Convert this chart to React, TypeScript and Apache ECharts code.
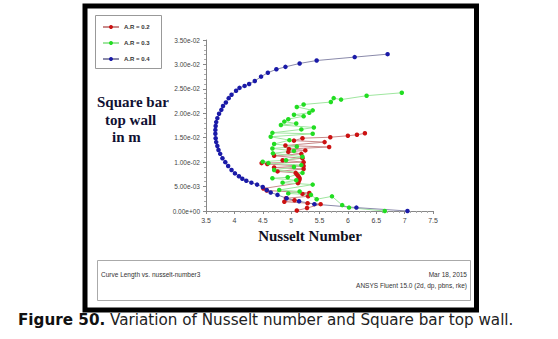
import React, { useEffect, useRef } from "react";
import * as echarts from "echarts";

const seriesNames = ["A.R = 0.2", "A.R = 0.3", "A.R = 0.4"];

// A.R = 0.2 : [Nusselt number, curve length (m)]
const red: number[][] = [
  [5.10, 0.0001], [5.28, 0.0006], [5.52, 0.0014], [5.29, 0.0016], [4.88, 0.0019],
  [5.06, 0.0022], [4.91, 0.0026], [5.30, 0.0030], [5.20, 0.0035], [5.32, 0.0037],
  [4.57, 0.0042], [4.51, 0.0046], [5.12, 0.0057], [5.13, 0.0060], [5.14, 0.0063],
  [5.15, 0.0066], [5.14, 0.0069], [5.12, 0.0072], [5.10, 0.0075], [5.08, 0.0078],
  [4.76, 0.0081], [5.22, 0.0086], [4.70, 0.0089], [5.22, 0.0092], [4.58, 0.0096],
  [4.48, 0.0098], [5.22, 0.0100], [4.85, 0.0104], [5.20, 0.0108], [4.70, 0.0113],
  [5.18, 0.0117], [4.95, 0.0121], [5.25, 0.0124], [4.96, 0.0127], [5.67, 0.0131],
  [4.90, 0.0134], [5.59, 0.0141], [5.05, 0.0144], [5.20, 0.0149], [5.69, 0.0151],
  [6.00, 0.0154], [6.16, 0.0156], [6.30, 0.0159]
];

// A.R = 0.3
const green: number[][] = [
  [6.65, 0.0000], [6.02, 0.0007], [5.90, 0.0012], [5.72, 0.0030], [5.45, 0.0024],
  [5.35, 0.0033], [4.95, 0.0036], [5.15, 0.0040], [4.79, 0.0043], [5.38, 0.0054],
  [4.85, 0.0058], [5.09, 0.0063], [4.67, 0.0067], [4.94, 0.0069], [5.20, 0.0078],
  [4.70, 0.0084], [5.05, 0.0090], [5.18, 0.0094], [4.60, 0.0098], [4.50, 0.0101],
  [4.91, 0.0104], [5.20, 0.0111], [4.68, 0.0118], [5.05, 0.0123], [4.67, 0.0128],
  [5.10, 0.0132], [4.70, 0.0137], [4.97, 0.0145], [4.64, 0.0152], [5.38, 0.0158],
  [4.67, 0.0160], [5.18, 0.0167], [5.40, 0.0171], [4.82, 0.0176], [5.09, 0.0179],
  [4.88, 0.0183], [4.95, 0.0188], [5.22, 0.0194], [5.05, 0.0197], [5.32, 0.0201],
  [5.38, 0.0206], [5.10, 0.0213], [5.22, 0.0218], [5.70, 0.0223], [5.75, 0.0231],
  [5.88, 0.0228], [6.33, 0.0236], [6.95, 0.0242]
];

// A.R = 0.4
const blue: number[][] = [
  [6.70, 0.0321], [6.12, 0.0315], [5.45, 0.0308], [5.15, 0.0302], [4.90, 0.0295],
  [4.74, 0.0290], [4.59, 0.0283], [4.47, 0.0275], [4.36, 0.0266], [4.26, 0.0260],
  [4.18, 0.0256], [4.09, 0.0252], [4.03, 0.0246], [3.95, 0.0238], [3.90, 0.0231],
  [3.85, 0.0222], [3.80, 0.0215], [3.77, 0.0207], [3.73, 0.0199], [3.70, 0.0190],
  [3.68, 0.0182], [3.67, 0.0174], [3.665, 0.0166], [3.665, 0.0158], [3.67, 0.0149],
  [3.68, 0.0141], [3.70, 0.0133], [3.72, 0.0125], [3.75, 0.0117], [3.79, 0.0108],
  [3.84, 0.0100], [3.89, 0.0092], [3.95, 0.0084], [4.01, 0.0077], [4.08, 0.0071],
  [4.14, 0.0066], [4.21, 0.0062], [4.30, 0.0058], [4.40, 0.0054], [4.50, 0.0049],
  [4.57, 0.0043], [4.64, 0.0038], [4.76, 0.0033], [4.92, 0.0026], [5.14, 0.0020],
  [5.41, 0.0014], [6.15, 0.0007], [7.05, 0.0000]
];

const xTicks = { min: 3.5, max: 7.5, interval: 0.5 };
const yTicks = { min: 0, max: 0.035, interval: 0.005 };

const xTitle = "Nusselt Number";
const yTitleLines = ["Square bar", "top wall", "in m"];
const footLeft = "Curve Length vs. nusselt-number3";
const footDate = "Mar 18, 2015";
const footApp = "ANSYS Fluent 15.0 (2d, dp, pbns, rke)";
const captionBold = "Figure 50.";
const captionText = " Variation of Nusselt number and Square bar top wall.";

function fmtExp(v: number): string {
  const s = v.toExponential(2);
  const [m, e] = s.split("e");
  const sign = e[0] === "-" ? "-" : "+";
  const digits = e.replace(/[+-]/, "").padStart(2, "0");
  return `${m}e${sign}${digits}`;
}

export default function App() {
  const ref = useRef<HTMLDivElement>(null);
  useEffect(() => {
    if (!ref.current) return;
    const chart = echarts.init(ref.current, undefined, { renderer: "svg" });
    const serif = "'Liberation Serif', 'Times New Roman', serif";
    const sans = "'Liberation Sans', Arial, sans-serif";
    const capFont = "'DejaVu Sans', Verdana, sans-serif";
    const mk = (name: string, data: number[][], dot: string, line: string) => ({
      name,
      type: "line",
      data,
      symbol: "circle",
      symbolSize: 4.5,
      showSymbol: true,
      itemStyle: { color: dot },
      lineStyle: { color: line, width: 1 },
      z: 3,
    });
    chart.setOption({
      animation: false,
      backgroundColor: "#ffffff",
      grid: { left: 206, right: 125, top: 40, bottom: 128, containLabel: false },
      legend: {
        orient: "vertical",
        left: 97,
        top: 19,
        itemWidth: 16,
        itemHeight: 5,
        itemGap: 10,
        data: seriesNames,
        textStyle: { fontSize: 6, fontFamily: sans, color: "#333", fontWeight: "bold" },
      },
      xAxis: {
        type: "value",
        min: xTicks.min,
        max: xTicks.max,
        interval: xTicks.interval,
        splitLine: { show: false },
        axisLine: { lineStyle: { color: "#888" } },
        axisTick: { length: 3, lineStyle: { color: "#888" } },
        minorTick: { show: true, splitNumber: 5, length: 2, lineStyle: { color: "#aaa" } },
        axisLabel: { fontSize: 7, fontFamily: sans, color: "#444", margin: 6 },
      },
      yAxis: {
        type: "value",
        min: yTicks.min,
        max: yTicks.max,
        interval: yTicks.interval,
        splitLine: { show: false },
        axisLine: { show: true, lineStyle: { color: "#888" } },
        axisTick: { show: true, length: 3, lineStyle: { color: "#888" } },
        minorTick: { show: true, splitNumber: 5, length: 2, lineStyle: { color: "#aaa" } },
        axisLabel: { fontSize: 6.5, fontFamily: sans, color: "#444", margin: 6, formatter: fmtExp },
      },
      series: [
        mk(seriesNames[0], red, "#cc1111", "#c98a8a"),
        mk(seriesNames[1], green, "#22dd22", "#9fe69f"),
        mk(seriesNames[2], blue, "#1a1aa8", "#8a8aaa"),
      ],
      graphic: [
        {
          type: "rect",
          shape: { x: 85, y: 6, width: 391.5, height: 304 },
          style: { fill: "none", stroke: "#000", lineWidth: 5 },
          z: 10,
        },
        {
          type: "rect",
          shape: { x: 95.5, y: 15.5, width: 66, height: 53 },
          style: { fill: "none", stroke: "#999", lineWidth: 1 },
          z: 10,
        },
        {
          type: "rect",
          shape: { x: 97.5, y: 260.5, width: 373, height: 40 },
          style: { fill: "none", stroke: "#aaa", lineWidth: 1 },
          z: 10,
        },
        {
          type: "text",
          x: 97,
          y: 102,
          style: { text: yTitleLines[0], font: `bold 15px ${serif}`, fill: "#111133", textVerticalAlign: "middle" },
          z: 10,
        },
        {
          type: "text",
          x: 105,
          y: 120,
          style: { text: yTitleLines[1], font: `bold 15px ${serif}`, fill: "#111133", textVerticalAlign: "middle" },
          z: 10,
        },
        {
          type: "text",
          x: 112,
          y: 137,
          style: { text: yTitleLines[2], font: `bold 15px ${serif}`, fill: "#111133", textVerticalAlign: "middle" },
          z: 10,
        },
        {
          type: "text",
          x: 310,
          y: 236,
          style: { text: xTitle, font: `bold 15px ${serif}`, fill: "#111122", textAlign: "center", textVerticalAlign: "middle" },
          z: 10,
        },
        {
          type: "text",
          x: 101,
          y: 274,
          style: { text: footLeft, font: `6.5px ${sans}`, fill: "#333", textVerticalAlign: "middle" },
          z: 10,
        },
        {
          type: "text",
          x: 467,
          y: 274,
          style: { text: footDate, font: `6.5px ${sans}`, fill: "#333", textAlign: "right", textVerticalAlign: "middle" },
          z: 10,
        },
        {
          type: "text",
          x: 467,
          y: 285,
          style: { text: footApp, font: `6.5px ${sans}`, fill: "#333", textAlign: "right", textVerticalAlign: "middle" },
          z: 10,
        },
        {
          type: "text",
          x: 18,
          y: 320,
          style: {
            text: `{b|${captionBold}}{n|${captionText}}`,
            textVerticalAlign: "middle",
            rich: {
              b: { font: `bold 15.2px ${capFont}`, fill: "#111" },
              n: { font: `15.2px ${capFont}`, fill: "#222" },
            },
          },
          z: 10,
        },
      ],
    });
    return () => chart.dispose();
  }, []);
  return (
    <div
      ref={ref}
      style={{ position: "fixed", left: 0, top: 0, width: 558, height: 339, background: "#fff" }}
    />
  );
}
